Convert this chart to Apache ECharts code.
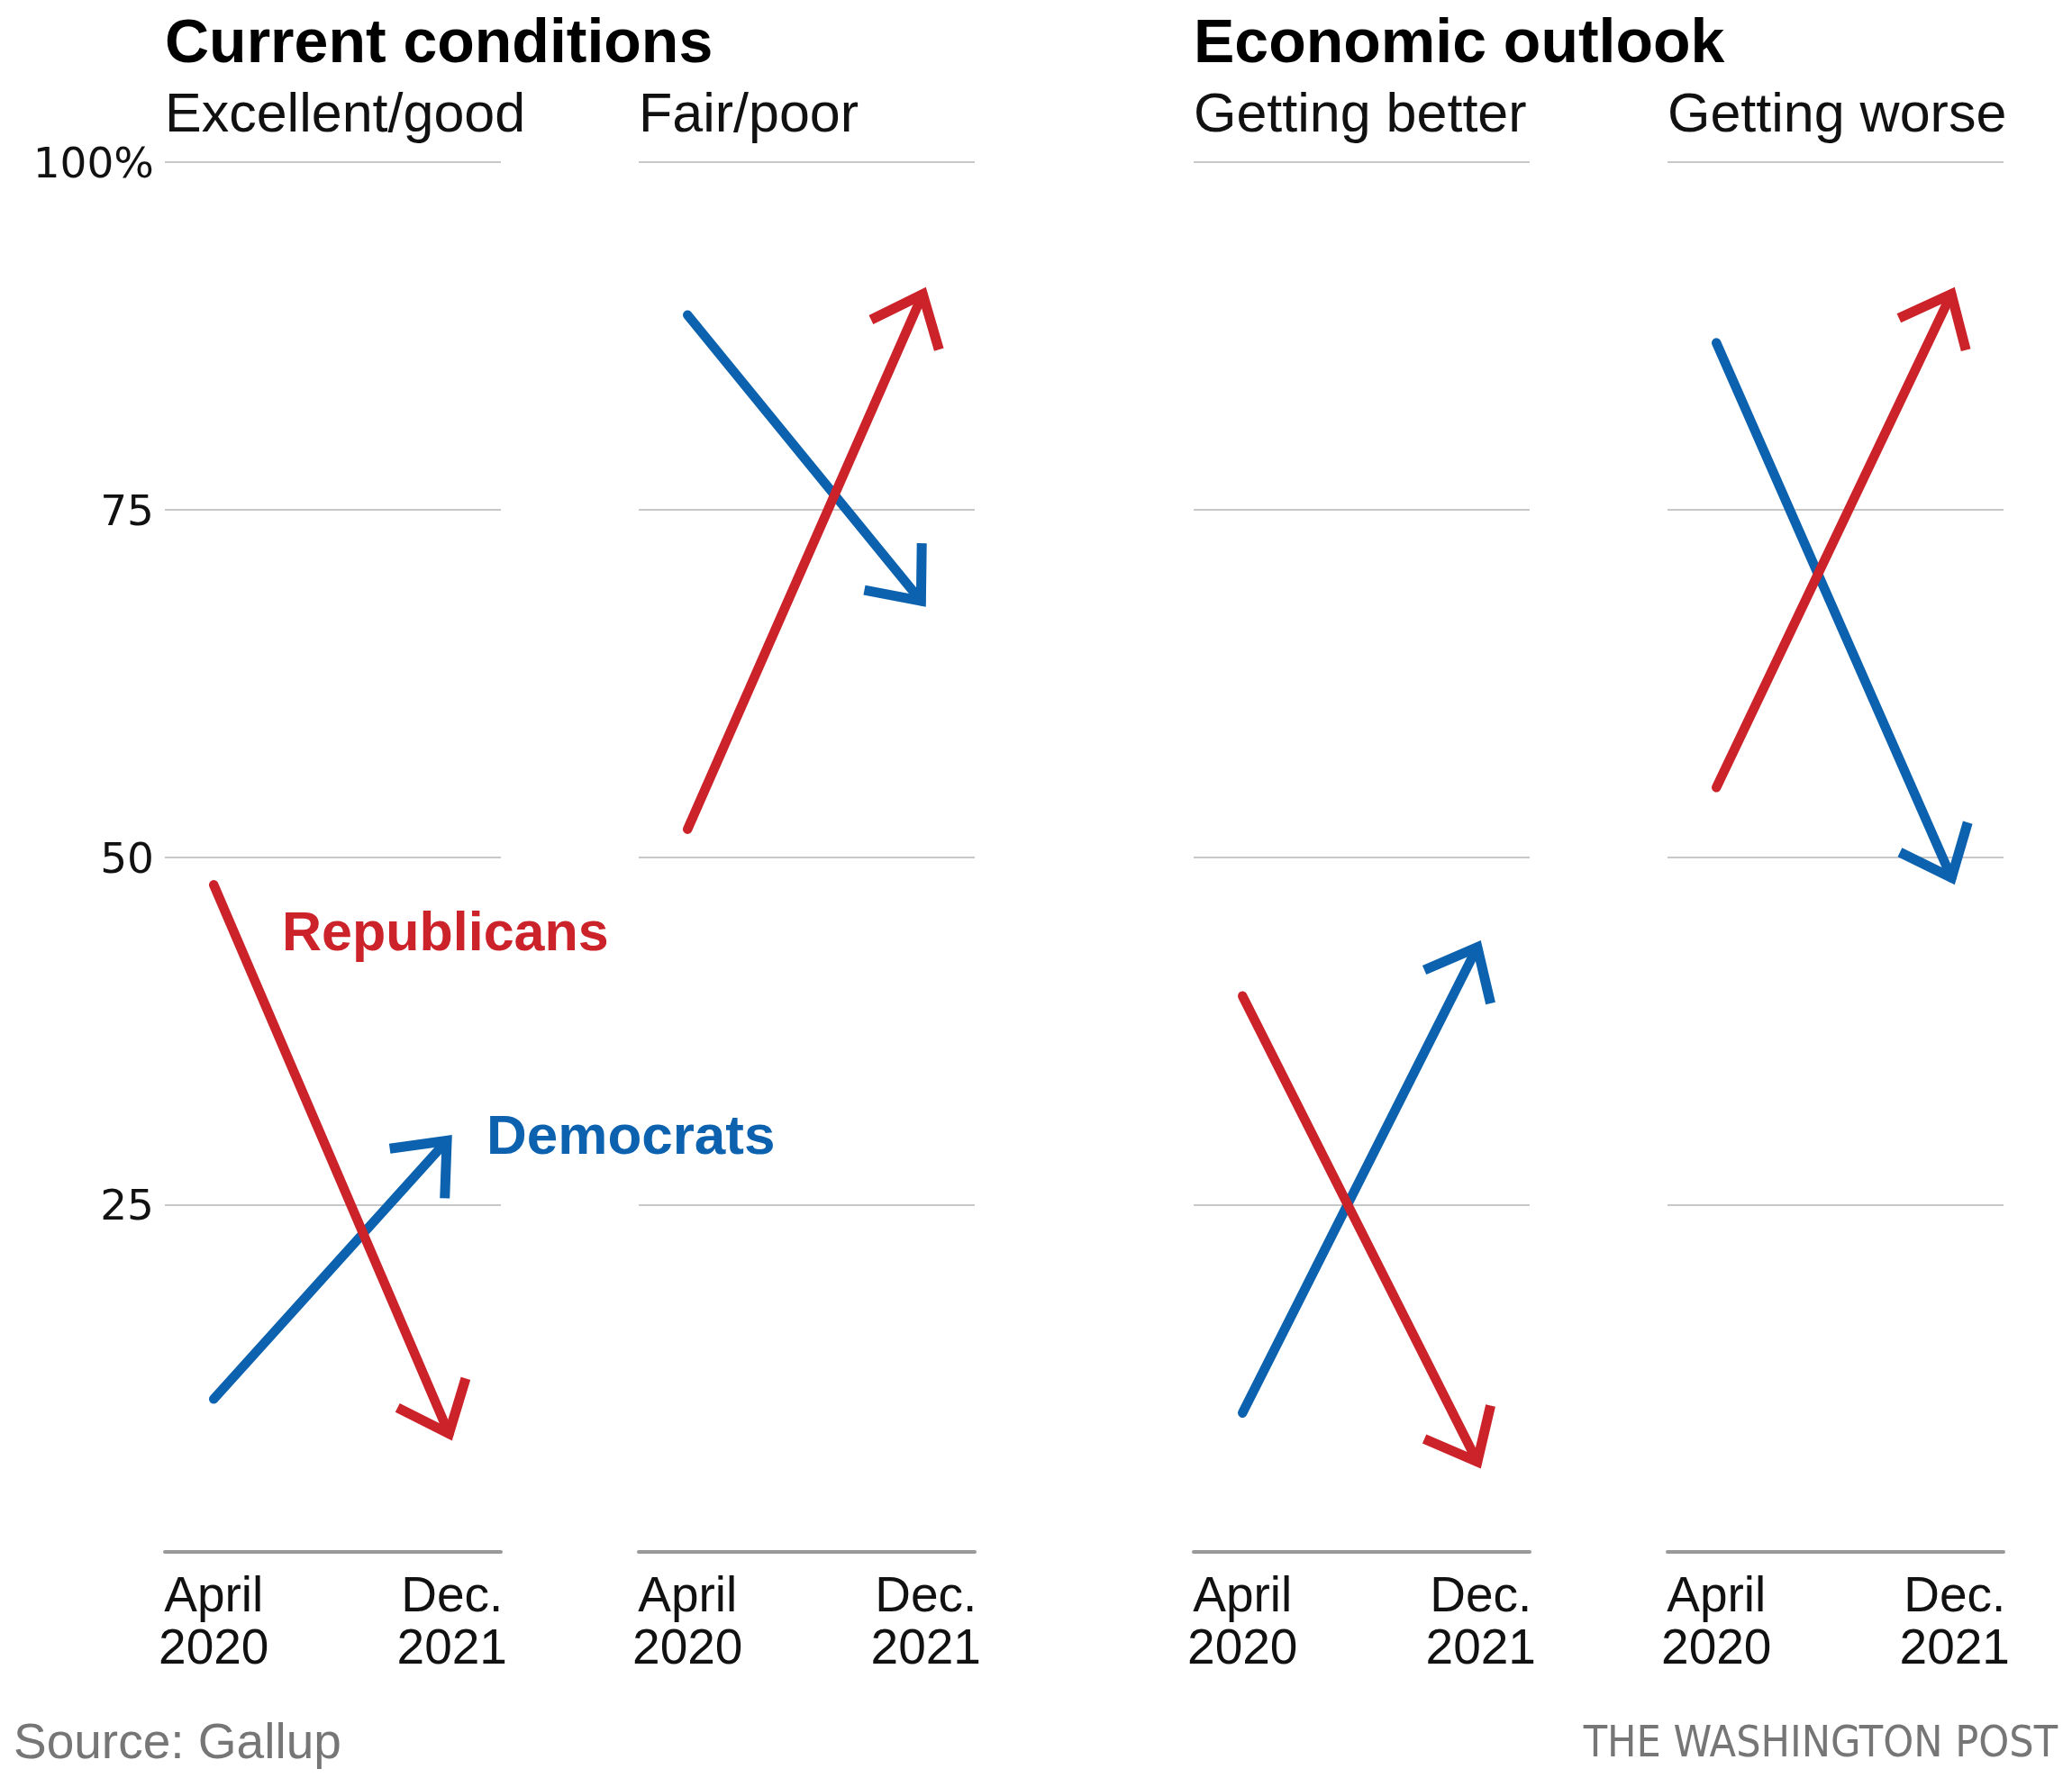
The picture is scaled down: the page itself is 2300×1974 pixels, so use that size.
<!DOCTYPE html>
<html>
<head>
<meta charset="utf-8">
<script src="https://cdn.jsdelivr.net/npm/echarts@6/dist/echarts.min.js"></script>
<style>
  html, body { margin: 0; padding: 0; background: #fff; }
  #chart { width: 2300px; height: 1974px; }
</style>
</head>
<body>
<div id="chart"></div>
<script>
// ---- data ----
const periods = ['April\n2020', 'Dec.\n2021'];
const groups = ['Current conditions', 'Economic outlook'];
const panels = ['Excellent/good', 'Fair/poor', 'Getting better', 'Getting worse'];
const republicans = [[48, 8], [52, 91], [40, 6], [55, 91]];
const democrats = [[11, 30], [89, 68], [10, 44], [87, 48]];

// ---- layout ----
const panelLeft = [183, 709, 1325, 1851];
const panelWidth = 373;
const gridTop = 180;
const gridHeight = 1543;
const RED = '#cc2229';
const BLUE = '#0c62ae';
const FONT = "'Liberation Sans', Arial, sans-serif";

const chart = echarts.init(document.getElementById('chart'), null, { renderer: 'canvas' });

function renderArrow(params, api) {
  const a = api.coord([api.value(0), api.value(1)]);
  const b = api.coord([api.value(2), api.value(3)]);
  const color = api.visual('color');
  const dx = b[0] - a[0], dy = b[1] - a[1];
  const len = Math.hypot(dx, dy);
  const ux = dx / len, uy = dy / len;
  const w = 11;
  const half = 40 * Math.PI / 180;
  const arm = 64;
  const back = (w / 2) / Math.sin(half);
  const tip = [b[0] - ux * back, b[1] - uy * back];
  const bx = -ux, by = -uy;
  const c = Math.cos(half), s = Math.sin(half);
  const a1 = [tip[0] + arm * (bx * c - by * s), tip[1] + arm * (bx * s + by * c)];
  const a2 = [tip[0] + arm * (bx * c + by * s), tip[1] + arm * (-bx * s + by * c)];
  return {
    type: 'group',
    children: [
      { type: 'line', shape: { x1: a[0], y1: a[1], x2: tip[0], y2: tip[1] },
        style: { stroke: color, lineWidth: 10.5, lineCap: 'round' } },
      { type: 'polyline', shape: { points: [a1, tip, a2] },
        style: { stroke: color, lineWidth: w, lineJoin: 'miter', lineCap: 'butt', fill: null } }
    ]
  };
}

const grids = [], xAxes = [], yAxes = [], series = [];
panels.forEach((name, i) => {
  grids.push({ left: panelLeft[i], top: gridTop, width: panelWidth, height: gridHeight });
  xAxes.push({
    gridIndex: i, type: 'value', min: -0.205, max: 1.205,
    axisLine: { show: true, onZero: false, lineStyle: { color: '#999', width: 4 } },
    axisTick: { show: false },
    splitLine: { show: false },
    axisLabel: {
      customValues: [0, 1],
      formatter: v => periods[Math.round(v)],
      fontFamily: FONT, fontSize: 55, lineHeight: 58, color: '#111', margin: 22
    }
  });
  yAxes.push({
    gridIndex: i, type: 'value', min: 0, max: 100, interval: 25,
    axisLine: { show: false }, axisTick: { show: false },
    splitLine: { show: true, lineStyle: { color: '#c8c8c8', width: 2 } },
    axisLabel: {
      show: i === 0,
      formatter: v => v === 0 ? '' : (v === 100 ? '100%' : String(v)),
      fontFamily: "'DejaVu Sans', sans-serif", fontSize: 47, color: '#111', margin: 12,
      verticalAlign: 'top', lineHeight: 10
    }
  });
  [[democrats, BLUE, 'Democrats'], [republicans, RED, 'Republicans']].forEach(([arr, col, nm]) => {
    series.push({
      type: 'custom', name: nm, xAxisIndex: i, yAxisIndex: i,
      itemStyle: { color: col },
      encode: { x: [0, 2], y: [1, 3] },
      renderItem: renderArrow,
      data: [[0, arr[i][0], 1, arr[i][1]]],
      silent: true
    });
  });
});

function txt(text, x, y, size, opts) {
  return {
    type: 'text', x: x, y: y, silent: true,
    style: Object.assign({ text: text, fontSize: size, fontFamily: FONT, fill: '#111',
      verticalAlign: 'top', align: 'left' }, opts || {})
  };
}

const graphics = [
  txt(groups[0], panelLeft[0], 16, 68, { fontWeight: 'bold', fill: '#000' }),
  txt(groups[1], panelLeft[2], 16, 68, { fontWeight: 'bold', fill: '#000' }),
  txt(panels[0], panelLeft[0], 99, 61),
  txt(panels[1], panelLeft[1], 99, 61),
  txt(panels[2], panelLeft[2], 99, 61),
  txt(panels[3], panelLeft[3], 99, 61),
  txt('Republicans', 313, 1008, 61, { fontWeight: 'bold', fill: RED }),
  txt('Democrats', 540, 1233, 62, { fontWeight: 'bold', fill: BLUE }),
  txt('Source: Gallup', 15, 1909, 55, { fill: '#767676' }),
  txt('THE WASHINGTON POST', 2284, 1914, 48,
      { fill: '#767676', align: 'right', fontFamily: "'Liberation Sans Narrow', 'DejaVu Sans Condensed', sans-serif" })
];

chart.setOption({
  animation: false,
  backgroundColor: '#fff',
  grid: grids, xAxis: xAxes, yAxis: yAxes, series: series,
  graphic: graphics
});
</script>
</body>
</html>
